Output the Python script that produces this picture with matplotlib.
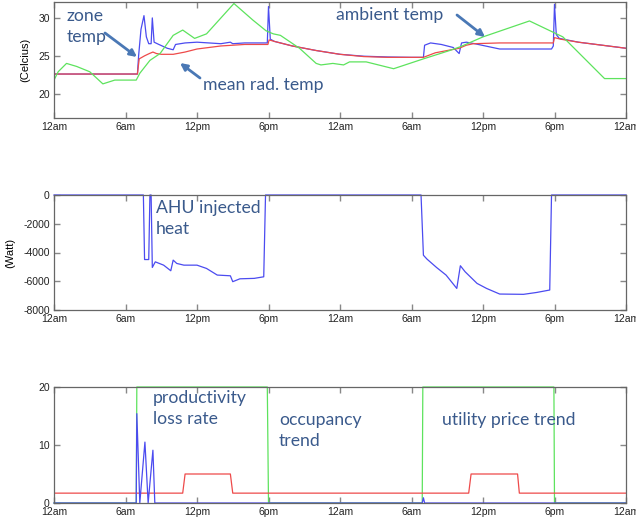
import matplotlib
matplotlib.use("Agg")
import matplotlib.pyplot as plt

plt.rcParams['axes.unicode_minus'] = False

# time axis (hours over two days)
tick_hours = [0, 6, 12, 18, 24, 30, 36, 42, 48]
tick_names = ['12am', '6am', '12pm', '6pm', '12am', '6am', '12pm', '6pm', '12am']

# zone temperature (blue)
zone_h = [0, 7.0, 7.1, 7.3, 7.55, 7.75, 7.95, 8.15, 8.25, 8.4, 8.8, 9.5, 10.0, 10.2, 11, 12, 13, 14, 14.8,
          15, 16, 17.9, 18.0, 18.15, 18.5, 20, 22, 24, 26, 28, 30, 31.0, 31.1, 31.6, 32.5, 33.5, 34.0,
          34.2, 34.6, 35.3, 36.2, 37.4, 41.75, 41.9, 42.0, 42.15, 42.4, 44, 46, 48]
zone_t = [22.6, 22.6, 25.0, 28.5, 30.3, 27.5, 26.6, 26.6, 30.0, 26.8, 26.5, 26.0, 25.8, 26.5, 26.7, 26.8,
          26.7, 26.6, 26.8, 26.6, 26.7, 26.7, 31.5, 27.2, 26.9, 26.3, 25.7, 25.2, 24.95, 24.85, 24.8,
          24.8, 26.4, 26.7, 26.5, 26.1, 25.3, 26.7, 26.8, 26.6, 26.3, 25.9, 25.9, 26.3, 31.8, 27.8,
          27.3, 26.8, 26.4, 26.0]

# mean radiant temperature (red)
mrt_h = [0, 7.0, 7.15, 7.6, 8.0, 8.3, 8.6, 9.0, 10.0, 11, 12, 13, 14, 16, 17.95, 18.05, 18.5, 20, 22,
         24, 26, 28, 31.0, 31.5, 32, 33, 34, 34.6, 35.2, 37.4, 41.9, 42.0, 42.5, 44, 46, 48]
mrt_t = [22.6, 22.6, 24.6, 25.0, 25.3, 25.5, 25.3, 25.2, 25.2, 25.5, 25.9, 26.1, 26.3, 26.5, 26.5, 27.1,
         26.9, 26.3, 25.7, 25.2, 24.9, 24.8, 24.8, 25.1, 25.4, 25.7, 26.0, 26.4, 26.6, 26.7, 26.7, 27.4,
         27.2, 26.8, 26.4, 26.0]

# ambient temperature (green)
amb_h = [0, 0.35, 1.05, 1.9, 3.0, 4.1, 5.1, 6.9, 7.2, 8.05, 8.9, 10.0, 10.8, 11.8, 12.8, 15.1, 16.7,
         17.8, 18.4, 19.0, 20.6, 22.0, 22.4, 23.4, 24.3, 24.8, 26.2, 28.5, 31.0, 33.2, 34.1, 36.0,
         39.9, 41.9, 42.7, 46.2, 48]
amb_t = [21.8, 22.9, 24.0, 23.6, 22.9, 21.3, 21.8, 21.8, 22.7, 24.4, 25.3, 27.7, 28.4, 27.3, 27.9, 31.9,
         29.7, 28.3, 27.9, 27.7, 26.0, 24.0, 23.8, 24.0, 23.8, 24.2, 24.2, 23.3, 24.6, 25.7, 26.2, 27.5,
         29.6, 28.1, 27.5, 22.0, 22.0]

# AHU injected heat (W)
ahu_h = [0, 7.5, 7.6, 7.95, 8.05, 8.15, 8.25, 8.5, 9.2, 9.8, 10.0, 10.3, 10.9, 12, 12.8, 13.7, 14.8, 15.0,
         15.6, 16.8, 17.6, 17.75, 30.8, 31.0, 31.3, 32.1, 32.9, 33.8, 34.1, 34.5, 35.5, 36.3, 37.4,
         39.4, 40.5, 41.6, 41.75, 48]
ahu_w = [0, 0, -4490, -4490, 0, 0, -5040, -4650, -4880, -5270, -4530, -4760, -4880, -4880, -5110, -5570,
         -5620, -6030, -5830, -5800, -5690, 0, 0, -4190, -4460, -5040, -5570, -6500, -4920, -5340, -6150,
         -6500, -6890, -6910, -6780, -6610, 0, 0]

# occupancy (green), utility price (red), productivity loss (blue)
occ_h = [0, 6.9, 6.95, 17.9, 18.0, 30.9, 30.95, 41.95, 42.0, 48]
occ_v = [0, 0, 20, 20, 0, 0, 20, 20, 0, 0]
price_h = [0, 10.8, 11.0, 14.8, 15.0, 34.8, 35.0, 38.9, 39.05, 48]
price_v = [1.7, 1.7, 5.0, 5.0, 1.7, 1.7, 5.0, 5.0, 1.7, 1.7]
loss_h = [0, 6.9, 6.95, 7.2, 7.63, 7.9, 8.3, 8.46, 30.9, 31.0, 31.1, 48]
loss_v = [0, 0, 15.4, 0, 10.5, 0, 9.1, 0, 0, 0.9, 0, 0]

W, H = 636, 523
BLUE = '#4b4bf0'
RED = '#ee4a4a'
GREEN = '#5de35d'
TXT = '#3a5a8c'
ARR = '#4a78b5'

fig = plt.figure(figsize=(W / 100, H / 100), dpi=100)


def px(x, y):
    return (x / W, 1 - y / H)


def make_ax(top, bottom):
    ax = fig.add_axes([54 / W, 1 - bottom / H, 572 / W, (bottom - top) / H])
    ax.set_xlim(0, 48)
    ax.set_xticks(tick_hours)
    ax.set_xticklabels(tick_names)
    ax.tick_params(direction='in', top=True, right=True, length=4, width=1, color='#888888',
                   labelsize=7.5, labelcolor='#222222', pad=3)
    for s in ax.spines.values():
        s.set_color('#666666')
        s.set_linewidth(0.9)
    return ax


ax1 = make_ax(2, 118)
ax1.plot(zone_h, zone_t, color=BLUE, lw=0.9)
ax1.plot(mrt_h, mrt_t, color=RED, lw=0.9)
ax1.plot(amb_h, amb_t, color=GREEN, lw=0.9)
ax1.set_ylim(16.8, 32.1)
ax1.set_yticks([20, 25, 30])
ax1.set_ylabel('(Celcius)', fontsize=8, family='Liberation Sans')
ax1.yaxis.set_label_coords(-0.042, 0.5)

ax2 = make_ax(195, 310)
ax2.plot(ahu_h, ahu_w, color=BLUE, lw=0.9, clip_on=False)
ax2.set_ylim(-8000, 0)
ax2.set_yticks([-8000, -6000, -4000, -2000, 0])
ax2.set_ylabel('(Watt)', fontsize=8, family='Liberation Sans')
ax2.yaxis.set_label_coords(-0.068, 0.5)

ax3 = make_ax(387, 503)
ax3.plot(occ_h, occ_v, color=GREEN, lw=0.9, clip_on=False)
ax3.plot(price_h, price_v, color=RED, lw=0.9)
ax3.plot(loss_h, loss_v, color=BLUE, lw=0.9, clip_on=False)
ax3.set_ylim(0, 20)
ax3.set_yticks([0, 10, 20])

for a in (ax1, ax2, ax3):
    for lab in a.get_xticklabels() + a.get_yticklabels():
        lab.set_family('Liberation Sans')

# callout labels
labels = [
    ('zone\ntemp', 67, 26.5),
    ('mean rad. temp', 203, 85),
    ('ambient temp', 336, 15),
    ('AHU injected\nheat', 156, 218.5),
    ('productivity\nloss rate', 153, 408.5),
    ('occupancy\ntrend', 279, 430.5),
    ('utility price trend', 442, 420),
]
for s, x, y in labels:
    fig.text(*px(x, y), s, color=TXT, fontsize=12.7, family='Lato', ha='left', va='center',
             linespacing=1.4)

arrows = [
    ((105, 33), (137, 57)),
    ((200, 78), (180, 63)),
    ((457, 15), (485, 37)),
    ((220, 223), (255, 250)),
    ((148, 415), (132, 444)),
    ((278, 425), (260, 457)),
    ((487, 445), (487, 467)),
]
for tail, head in arrows:
    ax1.annotate('', xy=px(*head), xytext=px(*tail), xycoords='figure fraction',
                 textcoords='figure fraction', annotation_clip=False,
                 arrowprops=dict(arrowstyle='-|>', color=ARR, lw=2, mutation_scale=10,
                                 shrinkA=0, shrinkB=0))

fig.savefig('out.png', dpi=100)
